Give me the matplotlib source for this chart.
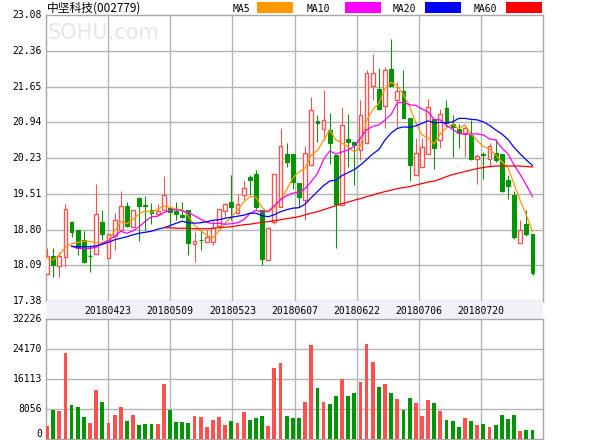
import matplotlib
matplotlib.use('Agg')
import matplotlib.pyplot as plt
from matplotlib.patches import Rectangle
import numpy as np

# ---------------- data ----------------
title_name = '中坚科技(002779)'
date_labels = ['20180423', '20180509', '20180523', '20180607', '20180622', '20180706', '20180720']
price_tick_labels = ['23.08', '22.36', '21.65', '20.94', '20.23', '19.51', '18.80', '18.09', '17.38']
vol_tick_labels = ['32226', '24170', '16113', '8056', '0']
price_min, price_max = 17.38, 23.08
vol_max = 32226
legend_names = ['MA5', 'MA10', 'MA20', 'MA60']

open_ = [17.91, 18.27, 18.07, 18.26, 18.96, 18.80, 18.59, 18.27, 18.31, 18.96,
         18.24, 18.67, 18.80, 19.27, 18.86, 19.44, 19.30, 19.20, 19.12, 19.20,
         19.24, 19.17, 19.09, 19.19, 18.52, 18.60, 18.56, 18.56, 18.87, 19.18,
         19.36, 19.14, 19.49, 19.85, 19.91, 19.19, 18.19, 18.96, 19.26, 20.30,
         20.30, 19.74, 19.40, 20.10, 20.97, 20.80, 20.79, 20.29, 19.30, 20.61,
         20.54, 20.39, 20.52, 21.66, 21.60, 21.27, 22.00, 21.38, 21.57, 21.02,
         19.90, 20.05, 20.30, 21.00, 20.59, 21.22, 20.90, 20.80, 20.72, 20.69,
         20.21, 20.31, 20.21, 20.32, 20.31, 19.80, 19.49, 18.53, 18.91, 18.71]
high = [18.43, 18.43, 18.36, 19.32, 18.97, 18.80, 18.78, 18.49, 19.71, 19.19,
        18.72, 19.14, 19.57, 19.36, 19.20, 19.46, 19.47, 19.34, 19.32, 19.87,
        19.24, 19.36, 19.36, 19.19, 18.76, 18.80, 18.80, 19.00, 19.22, 19.34,
        19.89, 19.52, 19.80, 19.89, 19.99, 19.19, 18.86, 19.91, 20.82, 20.52,
        20.30, 19.74, 20.47, 21.44, 21.08, 21.58, 21.12, 20.29, 21.24, 21.10,
        20.54, 21.38, 21.98, 22.30, 22.02, 22.04, 22.61, 21.75, 21.98, 21.02,
        20.62, 20.62, 21.40, 21.00, 21.20, 21.38, 21.08, 20.90, 20.87, 20.99,
        20.31, 20.35, 20.53, 20.60, 20.31, 19.89, 19.58, 18.99, 19.19, 18.71]
low = [17.91, 17.85, 17.86, 18.05, 18.65, 18.29, 18.14, 17.96, 18.31, 18.59,
       18.23, 18.39, 18.80, 18.86, 18.86, 18.58, 18.79, 18.91, 19.10, 19.20,
       18.89, 18.99, 19.04, 18.29, 18.16, 18.40, 18.56, 18.49, 18.87, 19.06,
       18.99, 19.12, 19.39, 19.49, 19.22, 18.09, 18.19, 18.92, 19.26, 20.05,
       19.62, 19.26, 19.00, 20.10, 20.55, 20.59, 20.12, 18.44, 19.29, 20.05,
       19.70, 20.19, 20.52, 21.38, 21.18, 20.82, 21.66, 20.84, 21.02, 19.78,
       19.90, 20.05, 20.30, 20.02, 20.42, 20.85, 20.25, 20.43, 20.25, 20.20,
       19.72, 19.82, 20.05, 20.15, 19.56, 19.42, 18.61, 18.53, 18.67, 17.89]
close = [18.27, 18.09, 18.27, 19.22, 18.76, 18.43, 18.16, 18.27, 19.11, 18.72,
         18.72, 19.00, 19.27, 18.87, 19.20, 19.28, 19.28, 19.14, 19.17, 19.49,
         19.16, 19.12, 19.06, 18.54, 18.58, 18.60, 18.66, 18.84, 19.22, 19.31,
         19.26, 19.31, 19.64, 19.80, 19.26, 18.21, 18.84, 19.91, 20.47, 20.15,
         19.76, 19.46, 20.33, 21.18, 20.93, 20.99, 20.52, 19.32, 20.88, 20.55,
         20.49, 21.08, 21.92, 21.93, 21.20, 21.98, 21.66, 21.57, 21.02, 20.09,
         20.32, 20.45, 21.25, 20.43, 21.10, 20.93, 20.85, 20.73, 20.82, 20.22,
         20.27, 20.28, 20.47, 20.19, 19.58, 19.68, 18.66, 18.80, 18.72, 17.94]
volume = [3530, 7870, 7600, 23080, 9230, 8500, 5970, 4430, 13030, 10040,
          4430, 6520, 8500, 4890, 6520, 3800, 4070, 4070, 4070, 14660,
          7870, 4620, 4620, 4430, 6240, 5970, 3350, 5160, 5970, 3800,
          4890, 4430, 7330, 5160, 5700, 6240, 3530, 19000, 20360, 6240,
          5700, 5700, 10050, 25250, 13580, 10050, 9500, 11670, 16020, 11670,
          12220, 15200, 25520, 20630, 13850, 14660, 12220, 10860, 7870, 11130,
          9770, 6240, 10590, 9770, 7600, 5160, 4890, 3260, 5700, 4890,
          3800, 4070, 3260, 3800, 6520, 5430, 6520, 2170, 2440, 2440]

ma5 = [18.24, 18.20, 18.30, 18.45, 18.52, 18.55, 18.57, 18.57, 18.54, 18.54,
       18.60, 18.77, 18.97, 18.92, 19.01, 19.12, 19.18, 19.15, 19.21, 19.27,
       19.25, 19.21, 19.20, 19.07, 18.89, 18.78, 18.69, 18.64, 18.78, 18.93,
       19.06, 19.19, 19.35, 19.46, 19.45, 19.24, 19.15, 19.24, 19.40, 19.60,
       19.83, 19.95, 20.03, 20.29, 20.38, 20.58, 20.79, 20.59, 20.53, 20.45,
       20.35, 20.46, 20.98, 21.19, 21.32, 21.62, 21.74, 21.67, 21.49, 21.26,
       20.93, 20.69, 20.63, 20.51, 20.71, 20.83, 20.91, 20.81, 20.89, 20.71,
       20.58, 20.46, 20.41, 20.29, 20.16, 20.04, 19.71, 19.38, 19.09, 18.76]
ma10 = [None, None, None, None, 18.47, 18.43, 18.42, 18.43, 18.45, 18.53,
        18.58, 18.67, 18.77, 18.73, 18.78, 18.86, 18.97, 19.06, 19.07, 19.14,
        19.19, 19.20, 19.18, 19.14, 19.08, 19.01, 18.95, 18.92, 18.93, 18.91,
        18.92, 18.94, 19.00, 19.12, 19.19, 19.15, 19.17, 19.28, 19.40, 19.48,
        19.53, 19.55, 19.62, 19.76, 19.92, 20.20, 20.37, 20.31, 20.35, 20.39,
        20.46, 20.63, 20.79, 20.86, 20.89, 20.99, 21.10, 21.33, 21.34, 21.29,
        21.28, 21.21, 21.15, 21.00, 20.99, 20.88, 20.80, 20.72, 20.70, 20.71,
        20.71, 20.69, 20.61, 20.59, 20.43, 20.31, 20.09, 19.90, 19.69, 19.46]
ma20 = [None, None, None, None, 18.47, 18.46, 18.46, 18.46, 18.48, 18.51,
        18.55, 18.60, 18.63, 18.66, 18.70, 18.73, 18.75, 18.77, 18.81, 18.84,
        18.88, 18.93, 18.97, 18.94, 18.93, 18.94, 18.96, 18.99, 19.00, 19.03,
        19.05, 19.07, 19.09, 19.13, 19.13, 19.08, 19.06, 19.10, 19.16, 19.20,
        19.23, 19.24, 19.31, 19.44, 19.56, 19.68, 19.77, 19.79, 19.88, 19.94,
        20.00, 20.09, 20.20, 20.31, 20.40, 20.59, 20.73, 20.82, 20.85, 20.84,
        20.87, 20.92, 20.97, 20.93, 20.94, 20.93, 20.95, 21.02, 21.02, 21.00,
        20.99, 20.95, 20.88, 20.79, 20.71, 20.60, 20.44, 20.31, 20.19, 20.08]
ma60 = [None] * 19 + [
        18.84, 18.84, 18.83, 18.83, 18.83, 18.82, 18.82, 18.82, 18.83, 18.84,
        18.85, 18.86, 18.88, 18.90, 18.91, 18.93, 18.95, 18.96, 18.98, 19.00,
        19.02, 19.04, 19.06, 19.10, 19.13, 19.16, 19.20, 19.24, 19.28, 19.32,
        19.35, 19.39, 19.42, 19.46, 19.49, 19.53, 19.56, 19.59, 19.62, 19.64,
        19.66, 19.69, 19.72, 19.75, 19.77, 19.81, 19.86, 19.90, 19.93, 19.96,
        19.99, 20.02, 20.04, 20.06, 20.07, 20.07, 20.07, 20.07, 20.07, 20.06,
        20.05]

# ---------------- style ----------------
RED = '#ff5050'
GREEN = '#009600'
MA_COLORS = ['#ff9900', '#ff00ff', '#0000ff', '#ff0000']
GRID = '#b4b4b4'
FRAME = '#a8a8a8'
NUM_FONT = 'DejaVu Sans Mono'

W, H = 600, 440
fig = plt.figure(figsize=(W / 100, H / 100), dpi=100)
fig.patch.set_facecolor('white')


def axrect(l, t, r, b):
    return [l / W, 1 - b / H, (r - l) / W, (b - t) / H]


ax = fig.add_axes(axrect(46, 15, 543, 301))
band = fig.add_axes(axrect(46, 301, 543, 319))
axv = fig.add_axes(axrect(46, 319, 543, 439))

n = len(close)
x = np.arange(n)
step = 6.146
xlim = (-(47 - 46) / step, (543 - 47) / step)
bw = 0.62

for a in (ax, axv):
    a.set_xlim(*xlim)
    a.set_xticks([xlim[0] + k * (xlim[1] - xlim[0]) / 8 for k in range(1, 8)])
    a.tick_params(length=0, labelbottom=False, labelleft=False)
    a.grid(True, color=GRID, lw=1.0)
    a.set_axisbelow(True)
    for s in a.spines.values():
        s.set_color(FRAME)
        s.set_linewidth(1.0)

ax.set_ylim(price_min, price_max)
ax.set_yticks([price_max - k * (price_max - price_min) / 8 for k in range(1, 8)])
axv.set_ylim(0, vol_max)
axv.set_yticks([vol_max * k / 4 for k in range(1, 4)])

# watermark
ax.text(2 / 497, 1 - 18 / 286, 'SOHU.com', transform=ax.transAxes, color='#e6e6e6',
        fontsize=15, va='center', ha='left', family='DejaVu Sans', zorder=0.5)

# candles
lw_px = 0.75
for i in range(n):
    o, h, l, c = open_[i], high[i], low[i], close[i]
    if c > o:
        ax.vlines(i, c, h, color=RED, lw=lw_px, zorder=3)
        ax.vlines(i, l, o, color=RED, lw=lw_px, zorder=3)
        ax.add_patch(Rectangle((i - bw / 2, o), bw, c - o, facecolor='white',
                               edgecolor=RED, lw=lw_px * 1.3, zorder=3))
    elif c < o:
        ax.vlines(i, l, h, color=GREEN, lw=lw_px, zorder=3)
        ax.add_patch(Rectangle((i - bw / 2, c), bw, o - c, facecolor=GREEN,
                               edgecolor=GREEN, lw=lw_px, zorder=3))
    else:
        ax.vlines(i, l, h, color=GREEN, lw=lw_px, zorder=3)
        ax.hlines(o, i - bw / 2, i + bw / 2, color=GREEN, lw=lw_px, zorder=3)

# moving averages
for vals, col in zip([ma5, ma10, ma20, ma60], MA_COLORS):
    xs = [i for i, v in enumerate(vals) if v is not None]
    ys = [v for v in vals if v is not None]
    ax.plot(xs, ys, color=col, lw=0.9, zorder=4)

# volume
vcol = [RED if close[i] >= open_[i] else GREEN for i in range(n)]
axv.bar(x, volume, width=bw, color=vcol, zorder=3, linewidth=0)

# y labels
for k, lab in enumerate(price_tick_labels):
    y = price_max - k * (price_max - price_min) / 8
    ax.text(-4 / 497, y, lab, transform=ax.get_yaxis_transform(), ha='right',
            va='center', fontsize=7, family=NUM_FONT, color='black', clip_on=False)
for k, lab in enumerate(vol_tick_labels):
    y = vol_max - k * vol_max / 4
    va = 'bottom' if k == len(vol_tick_labels) - 1 else 'center'
    axv.text(-4 / 497, y, lab, transform=axv.get_yaxis_transform(), ha='right',
             va=va, fontsize=7, family=NUM_FONT, color='black', clip_on=False)

# date band
band.set_xlim(0, 1)
band.set_ylim(0, 1)
band.set_facecolor('#f1f2f8')
band.set_xticks([])
band.set_yticks([])
for s in band.spines.values():
    s.set_visible(False)
for k, lab in enumerate(date_labels):
    band.text((k + 1) / 8, 0.45, lab, ha='center', va='center', fontsize=7,
              family=NUM_FONT, color='black')

# title
fig.text(47 / W, 1 - 8.5 / H, title_name, ha='left', va='center', fontsize=8.5,
         family=['Noto Sans CJK SC', 'DejaVu Sans'], color='black')

# legend
text_x = [233, 307, 393, 474]
box_x = [257, 345, 425, 506]
for name, tx, bx, col in zip(legend_names, text_x, box_x, MA_COLORS):
    fig.text(tx / W, 1 - 8.5 / H, name, ha='left', va='center', fontsize=7,
             family=NUM_FONT, color='black')
    fig.add_artist(Rectangle((bx / W, 1 - 13.5 / H), 36 / W, 11.5 / H,
                             transform=fig.transFigure, facecolor=col,
                             edgecolor='none'))

fig.savefig('out.png', dpi=100, facecolor='white')
